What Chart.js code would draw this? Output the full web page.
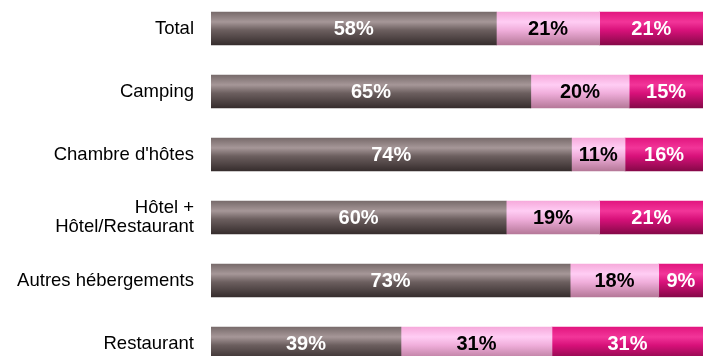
<!DOCTYPE html>
<html lang="fr">
<head>
  <meta charset="UTF-8">
  <title>Répartition par type d'hébergement</title>
  <script src="https://cdn.jsdelivr.net/npm/chart.js"></script>
  <style>
    html, body { margin: 0; padding: 0; background: #fff; overflow: hidden; }
    #wrap { position: absolute; left: 0; top: -3px; width: 704px; height: 378px; }
  </style>
</head>
<body>
  <div id="wrap"><canvas id="barChart"></canvas></div>

  <script>
    const categories = ['Total', 'Camping', "Chambre d'hôtes", ['Hôtel +', 'Hôtel/Restaurant'], 'Autres hébergements', 'Restaurant'];
    const part1 = [58, 65, 74, 60, 73, 39];
    const part2 = [21, 20, 11, 19, 18, 31];
    const part3 = [21, 15, 16, 21, 9, 31];

    // les pourcentages arrondis ne font pas toujours 100, on ramène chaque ligne à 100
    const totals = part1.map((v, i) => v + part2[i] + part3[i]);
    const norm = arr => arr.map((v, i) => v / totals[i] * 100);

    const FONT = "'Liberation Sans', Arial, sans-serif";
    const BAR = 33;

    // dégradé vertical type "cylindre"
    function shade(stops) {
      return function (c) {
        const chart = c.chart;
        const y = chart.scales && chart.scales.y;
        if (!chart.chartArea || !y) return stops[0];
        const cy = y.getPixelForValue(c.dataIndex);
        const g = chart.ctx.createLinearGradient(0, cy - BAR / 2, 0, cy + BAR / 2);
        g.addColorStop(0, stops[0]);
        g.addColorStop(0.3, stops[1]);
        g.addColorStop(0.55, stops[2]);
        g.addColorStop(1, stops[3]);
        return g;
      };
    }

    const valueLabels = {
      id: 'valueLabels',
      afterDatasetsDraw(chart) {
        const ctx = chart.ctx;
        ctx.save();
        ctx.font = 'bold 20px ' + FONT;
        ctx.textAlign = 'center';
        ctx.textBaseline = 'middle';
        chart.data.datasets.forEach((ds, di) => {
          chart.getDatasetMeta(di).data.forEach((el, i) => {
            const p = el.getProps(['x', 'y', 'base'], true);
            ctx.fillStyle = ds.labelColor;
            ctx.fillText(ds.raw[i] + '%', (p.x + p.base) / 2, p.y + 1);
          });
        });
        ctx.restore();
      }
    };

    new Chart(document.getElementById('barChart'), {
      type: 'bar',
      data: {
        labels: categories,
        datasets: [
          { data: norm(part1), raw: part1, labelColor: '#fff',
            backgroundColor: shade(['#786b6b', '#a69798', '#6c5f5f', '#362d2d']) },
          { data: norm(part2), raw: part2, labelColor: '#000',
            backgroundColor: shade(['#f6aadb', '#ffcdf4', '#f0aedb', '#b57898']) },
          { data: norm(part3), raw: part3, labelColor: '#fff',
            backgroundColor: shade(['#e2167f', '#f23599', '#d8117a', '#860848']) }
        ]
      },
      options: {
        indexAxis: 'y',
        responsive: true,
        maintainAspectRatio: false,
        animation: false,
        barThickness: BAR,
        layout: { padding: { left: 0, right: 1, top: 0, bottom: 0 } },
        plugins: { legend: { display: false }, tooltip: { enabled: false } },
        scales: {
          x: { stacked: true, min: 0, max: 100, display: false },
          y: {
            stacked: true,
            grid: { display: false, drawTicks: false },
            border: { display: false },
            ticks: { color: '#000', padding: 17, font: { family: FONT, size: 18.5, lineHeight: 1.03 } },
            afterFit(scale) {
              scale.width = 211;
              scale.paddingTop = 0;
              scale.paddingBottom = 0;
            }
          }
        }
      },
      plugins: [valueLabels]
    });
  </script>
</body>
</html>
